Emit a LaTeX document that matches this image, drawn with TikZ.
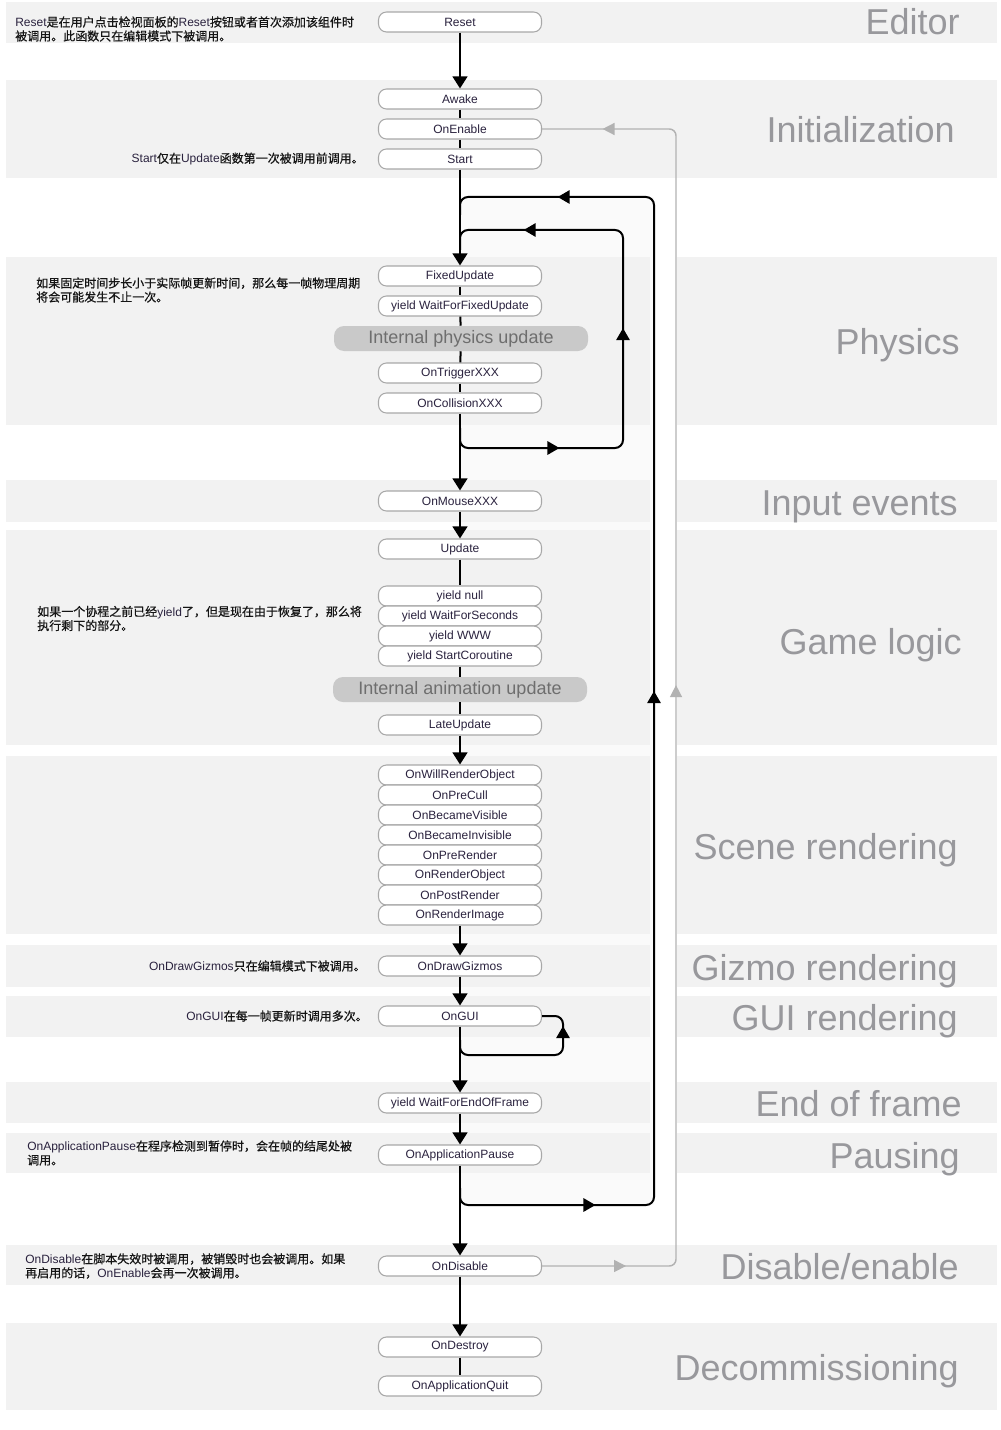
\documentclass[tikz,border=0pt]{standalone}
\usepackage{fontspec}
\setmainfont{Liberation Sans}
\newfontfamily\cjk{Noto Sans CJK SC}[FakeBold=0.6]
\usetikzlibrary{arrows.meta,decorations.markings}
\definecolor{bandfill}{HTML}{F2F2F2}
\definecolor{loopfill}{HTML}{FAFAFA}
\definecolor{bandtxt}{RGB}{152,152,156}
\definecolor{boxline}{HTML}{A8A8A8}
\definecolor{nodetxt}{RGB}{42,34,62}
\definecolor{zhtxt}{RGB}{20,20,20}
\definecolor{pillfill}{HTML}{C9C9C9}
\definecolor{pilltxt}{HTML}{6E6E6E}
\definecolor{grayline}{RGB}{178,178,178}
\newcommand\zh[1]{{\cjk\color{zhtxt}#1}}
\tikzset{
  fbox/.style={draw=boxline, line width=0.8pt, fill=white, rounded corners=6pt,
    minimum width=122.25pt, minimum height=15pt, inner sep=0pt,
    font=\fontsize{9}{10}\selectfont, text=nodetxt},
  pill/.style={fill=pillfill, rounded corners=7.5pt, minimum width=190.5pt,
    minimum height=18.75pt, inner sep=0pt, font=\fontsize{13.5}{15}\selectfont, text=pilltxt},
  bandlabel/.style={anchor=base east, inner sep=0pt, font=\fontsize{27}{31}\selectfont, text=bandtxt},
  note/.style={inner sep=0pt, font=\fontsize{9}{10.5}\selectfont, text=nodetxt, align=left},
  flow/.style={line width=1.5pt, -{Triangle[width=11pt,length=9pt]}},
  plain/.style={line width=1.5pt},
  loopline/.style={line width=1.5pt, rounded corners=6pt},
  grayloop/.style={line width=1.1pt, draw=grayline, rounded corners=5pt},
}
\begin{document}
\begin{tikzpicture}[x=0.75pt,y=-0.75pt]
\useasboundingbox (0,0) rectangle (1000,1430);
% background bands
\fill[bandfill] (6,2) rectangle (997,43);
\fill[bandfill] (6,80) rectangle (997,178);
\fill[loopfill] (460,197) rectangle (654,1205);
\foreach \a/\b in {257/425,480/522,530/745,756/934,945/987,996/1037,1082/1123,1133/1173}{
  \fill[bandfill] (6,\a) rectangle (650,\b);
  \fill[bandfill] (677,\a) rectangle (997,\b);
}
\fill[bandfill] (6,1245) rectangle (997,1285);
\fill[bandfill] (6,1323) rectangle (997,1410);

% band labels
\node[bandlabel] (lEditor) at (960,35) {Editor};
\node[bandlabel] (lInit) at (955,143) {Initialization};
\node[bandlabel] (lPhys) at (960,354) {Physics};
\node[bandlabel] (lInput) at (958,515) {Input events};
\node[bandlabel] (lGame) at (962,654) {Game logic};
\node[bandlabel] (lScene) at (958,859) {Scene rendering};
\node[bandlabel] (lGizmo) at (958,980) {Gizmo rendering};
\node[bandlabel] (lGUI) at (958,1030) {GUI rendering};
\node[bandlabel] (lEnd) at (962,1116) {End of frame};
\node[bandlabel] (lPause) at (960,1168) {Pausing};
\node[bandlabel] (lDis) at (959,1279) {Disable/enable};
\node[bandlabel] (lDecom) at (959,1380) {Decommissioning};

% notes
\node[note, anchor=west] (nReset) at (15,29) {Reset\zh{是在用户点击检视面板的}Reset\zh{按钮或者首次添加该组件时}\\\zh{被调用。此函数只在编辑模式下被调用。}};
\node[note, anchor=east] (nStart) at (364,159) {Start\zh{仅在}Update\zh{函数第一次被调用前调用。}};
\node[note, anchor=west] (nPhys) at (36,290) {\zh{如果固定时间步长小于实际帧更新时间，那么每一帧物理周期}\\\zh{将会可能发生不止一次。}};
\node[note, anchor=west] (nGame) at (37,618.5) {\zh{如果一个协程之前已经}yield\zh{了，但是现在由于恢复了，那么将}\\\zh{执行剩下的部分。}};
\node[note, anchor=east] (nGizmo) at (366,966) {OnDrawGizmos\zh{只在编辑模式下被调用。}};
\node[note, anchor=east] (nGUI) at (368,1016) {OnGUI\zh{在每一帧更新时调用多次。}};
\node[note, anchor=west] (nPause) at (27,1153) {OnApplicationPause\zh{在程序检测到暂停时，会在帧的结尾处被}\\\zh{调用。}};
\node[note, anchor=west] (nDis) at (25,1266) {OnDisable\zh{在脚本失效时被调用，被销毁时也会被调用。如果}\\\zh{再启用的话，}OnEnable\zh{会再一次被调用。}};

% function boxes
\node[fbox] (Reset) at (460,22) {Reset};
\node[fbox] (Awake) at (460,99) {Awake};
\node[fbox] (OnEnable) at (460,129) {OnEnable};
\node[fbox] (Start) at (460,159) {Start};
\node[fbox] (Fixed) at (460,276) {FixedUpdate};
\node[fbox] (WFFU) at (460,306) {yield WaitForFixedUpdate};
\node[pill] (Phys) at (461,338.5) {Internal physics update};
\node[fbox] (Trig) at (460,373) {OnTriggerXXX};
\node[fbox] (Coll) at (460,403) {OnCollisionXXX};
\node[fbox] (Mouse) at (460,501) {OnMouseXXX};
\node[fbox] (Update) at (460,549) {Update};
\node[fbox] (Ynull) at (460,596) {yield null};
\node[fbox] (YWFS) at (460,616) {yield WaitForSeconds};
\node[fbox] (YWWW) at (460,636) {yield WWW};
\node[fbox] (YSC) at (460,656) {yield StartCoroutine};
\node[pill] (Anim) at (460,689.5) {Internal animation update};
\node[fbox] (Late) at (460,725) {LateUpdate};
\node[fbox] (WRO) at (460,775) {OnWillRenderObject};
\node[fbox] (PreCull) at (460,795) {OnPreCull};
\node[fbox] (BV) at (460,815) {OnBecameVisible};
\node[fbox] (BI) at (460,835) {OnBecameInvisible};
\node[fbox] (PreR) at (460,855) {OnPreRender};
\node[fbox] (RO) at (460,875) {OnRenderObject};
\node[fbox] (PostR) at (460,895) {OnPostRender};
\node[fbox] (RI) at (460,915) {OnRenderImage};
\node[fbox] (Gizmos) at (460,966) {OnDrawGizmos};
\node[fbox] (OnGUI) at (460,1016) {OnGUI};
\node[fbox] (WFEOF) at (460,1103) {yield WaitForEndOfFrame};
\node[fbox] (Pause) at (460,1155) {OnApplicationPause};
\node[fbox] (Disable) at (460,1266) {OnDisable};
\node[fbox] (Destroy) at (460,1347) {OnDestroy};
\node[fbox] (Quit) at (460,1386) {OnApplicationQuit};

% main flow
\draw[flow] (Reset) -- (Awake);
\draw[plain] (Awake) -- (OnEnable);
\draw[plain] (OnEnable) -- (Start);
\draw[flow] (Start) -- (Fixed);
\draw[plain] (Fixed) -- (WFFU);
\draw[plain] (WFFU) -- (Phys);
\draw[plain] (Phys) -- (Trig);
\draw[plain] (Trig) -- (Coll);
\draw[flow] (Coll) -- (Mouse);
\draw[flow] (Mouse) -- (Update);
\draw[plain] (Update) -- (Ynull);
\draw[plain] (YSC) -- (Anim);
\draw[plain] (Anim) -- (Late);
\draw[flow] (Late) -- (WRO);
\draw[flow] (RI) -- (Gizmos);
\draw[flow] (Gizmos) -- (OnGUI);
\draw[flow] (OnGUI) -- (WFEOF);
\draw[flow] (WFEOF) -- (Pause);
\draw[flow] (Pause) -- (Disable);
\draw[flow] (Disable) -- (Destroy);
\draw[plain] (Destroy) -- (Quit);

% physics inner loop
\coordinate (ib) at (460,428);
\coordinate (ir) at (623,448);
\coordinate (it) at (460,230);
\coordinate (ie) at (460,250);
\draw[loopline, postaction={decorate}, decoration={markings,
  mark=at position 87pt with {\arrow{Triangle[width=10pt,length=9pt]}},
  mark=at position 222pt with {\arrow{Triangle[width=10pt,length=9pt]}},
  mark=at position 367.5pt with {\arrow{Triangle[width=10pt,length=9pt]}}}]
  (ib) |- (ir) |- (it) -- (ie);

% frame outer loop
\coordinate (ob) at (460,1188);
\coordinate (or) at (654,1205);
\coordinate (ot) at (460,197);
\coordinate (oe) at (460,215);
\draw[loopline, postaction={decorate}, decoration={markings,
  mark=at position 111.75pt with {\arrow{Triangle[width=10pt,length=9pt]}},
  mark=at position 538.5pt with {\arrow{Triangle[width=10pt,length=9pt]}},
  mark=at position 978.75pt with {\arrow{Triangle[width=10pt,length=9pt]}}}]
  (ob) |- (or) |- (ot) -- (oe);

% GUI loop
\coordinate (gb) at (460,1040);
\coordinate (gr) at (563,1055);
\draw[loopline, postaction={decorate}, decoration={markings,
  mark=at position 105pt with {\arrow{Triangle[width=10pt,length=9pt]}}}]
  (gb) |- (gr) |- (OnGUI.east);

% disable / enable loop
\coordinate (gc) at (676,129);
\draw[grayloop, postaction={decorate}, decoration={markings,
  mark=at position 63pt with {\arrow[color=grayline]{Triangle[width=9pt,length=9pt]}},
  mark=at position 534pt with {\arrow[color=grayline]{Triangle[width=9pt,length=9pt]}},
  mark=at position 1004pt with {\arrow[color=grayline]{Triangle[width=9pt,length=9pt]}}}]
  (Disable.east) -| (gc) -- (OnEnable.east);
\end{tikzpicture}
\end{document}
